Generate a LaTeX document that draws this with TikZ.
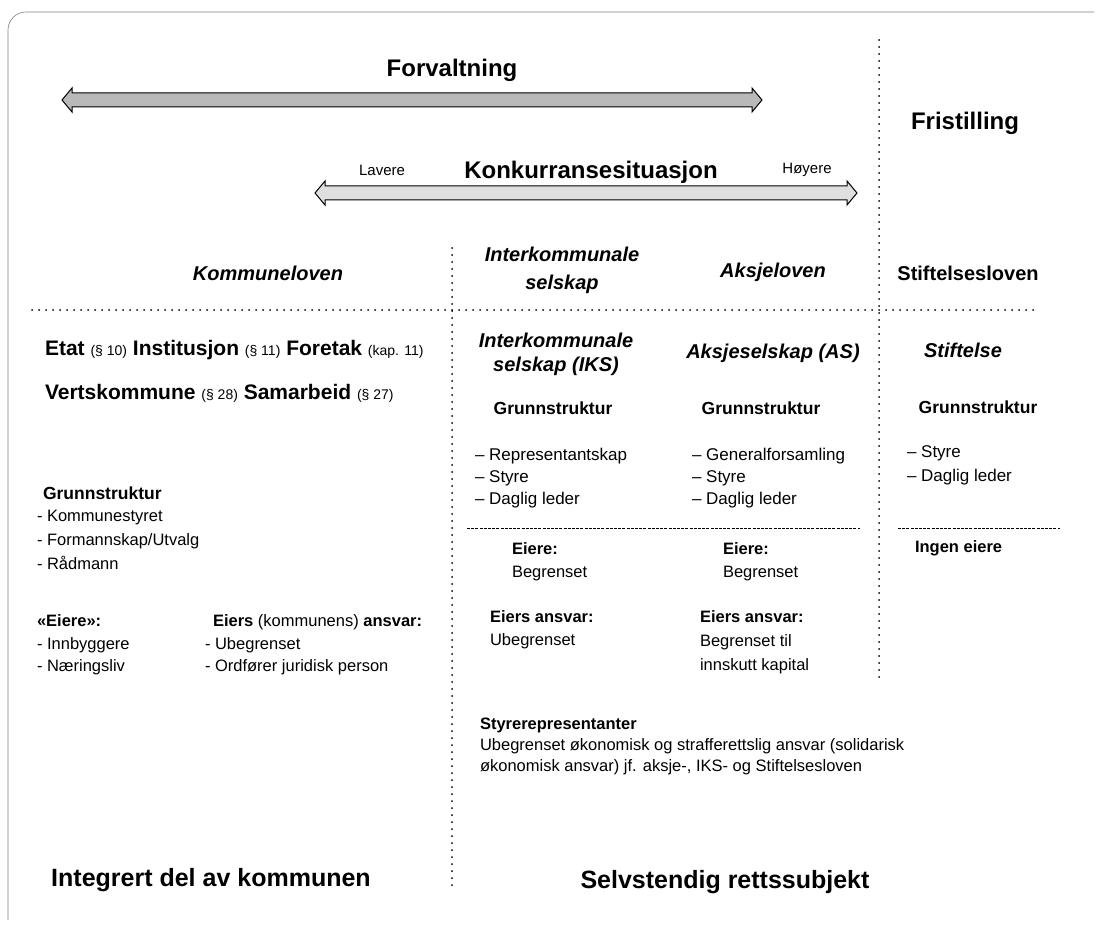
\documentclass[tikz,border=0pt]{standalone}
\usepackage{fontspec}
\setmainfont{Liberation Sans}
\newcommand\parenfont{\fontsize{14}{16}\selectfont\mdseries}
\begin{document}
\begin{tikzpicture}[x=1pt,y=-1pt, inner sep=0pt, outer sep=0pt,
  big/.style={font=\fontsize{24}{28}\selectfont\bfseries},
  hdr/.style={font=\fontsize{20}{24}\selectfont\bfseries\itshape, align=center},
  law/.style={font=\fontsize{20}{24}\selectfont\bfseries},
  sub/.style={font=\fontsize{17.5}{22}\selectfont\bfseries},
  small/.style={font=\fontsize{15}{18}\selectfont},
  lst/.style={font=\fontsize{16.5}{22.5}\selectfont, align=left, anchor=north west},
  dotline/.style={line width=2pt, dash pattern=on 0pt off 7pt, line cap=round},
  dashline/.style={line width=0.9pt, dash pattern=on 3pt off 1.2pt},
  frame/.style={draw=gray, line width=0.6pt},
  arrowdark/.style={draw=black, line width=1pt, fill=gray!55},
  arrowlight/.style={draw=black, line width=1pt, fill=gray!25},
]
\useasboundingbox (0,0) rectangle (1097,925);
% frame
\draw[frame, rounded corners=18pt] (8,920) -- (8,12) -- (1094,12);
% arrows
\draw[arrowdark] (62,100) -- (72,88) -- (72,93) -- (752,93) -- (752,88) -- (762,100)
  -- (752,112) -- (752,107) -- (72,107) -- (72,112) -- cycle;
\draw[arrowlight] (315,193) -- (325,181) -- (325,186) -- (847,186) -- (847,181) -- (857,193)
  -- (847,205) -- (847,200) -- (325,200) -- (325,205) -- cycle;
% separators
\draw[dotline] (879,40) -- (879,680);
\draw[dotline] (452,248) -- (452,892);
\draw[dotline] (32,310) -- (1035,310);
\draw[dashline] (467,528) -- (860,528);
\draw[dashline] (898,528) -- (1060,528);
% top
\node[big] (forv) at (452,70) {Forvaltning};
\node[big] (frist) at (965,123) {Fristilling};
\node[small] (lav) at (382,170) {Lavere};
\node[big] (konk) at (591,172) {Konkurransesituasjon};
\node[small] (hoy) at (807,170) {Høyere};
% headers
\node[hdr] (kl) at (268,273) {Kommuneloven};
\node[hdr, font=\fontsize{20}{28}\selectfont\bfseries\itshape] (iksl) at (562,270) {Interkommunale\\selskap};
\node[hdr] (asl) at (773,272) {Aksjeloven};
\node[law] (stl) at (968,273) {Stiftelsesloven};
% row 2
\node[anchor=west, font=\fontsize{21}{24}\selectfont\bfseries] (etat) at (45,350)
  {Etat {\parenfont(§ 10)} Institusjon {\parenfont(§ 11)} Foretak {\parenfont(kap. 11)}};
\node[anchor=west, font=\fontsize{21}{24}\selectfont\bfseries] (verts) at (45,393)
  {Vertskommune {\parenfont(§ 28)} Samarbeid {\parenfont(§ 27)}};
\node[hdr] (iks) at (556,354) {Interkommunale\\selskap (IKS)};
\node[hdr] (as) at (773,353) {Aksjeselskap (AS)};
\node[hdr] (stif) at (963,350) {Stiftelse};
% grunnstruktur
\node[sub] (g1) at (553,408) {Grunnstruktur};
\node[sub] (g2) at (761,408) {Grunnstruktur};
\node[sub] (g3) at (978,407) {Grunnstruktur};
\node[sub, anchor=west] (g0) at (43,493) {Grunnstruktur};
% lists
\node[lst, font=\fontsize{17}{22}\selectfont] (l1) at (475,448) {-- Representantskap\\-- Styre\\-- Daglig leder};
\node[lst, font=\fontsize{17}{22}\selectfont] (l2) at (692,448) {-- Generalforsamling\\-- Styre\\-- Daglig leder};
\node[lst, font=\fontsize{17}{24}\selectfont] (l3) at (907,446) {-- Styre\\-- Daglig leder};
\node[lst, font=\fontsize{16.5}{24}\selectfont] (l0) at (37,510) {- Kommunestyret\\- Formannskap/Utvalg\\- Rådmann};
% eiere
\node[lst] (e1) at (512,543) {\textbf{Eiere:}\\Begrenset};
\node[lst] (e2) at (723,543) {\textbf{Eiere:}\\Begrenset};
\node[lst] (e3) at (915,541) {\textbf{Ingen eiere}};
\node[lst] (a1) at (490,611) {\textbf{Eiers ansvar:}\\Ubegrenset};
\node[lst, font=\fontsize{16.5}{24}\selectfont] (a2) at (700,611) {\textbf{Eiers ansvar:}\\Begrenset til\\innskutt kapital};
\node[lst] (le) at (37,615) {\textbf{«Eiere»:}\\- Innbyggere\\- Næringsliv};
\node[lst] (la) at (205,615) {\hspace*{8pt}\textbf{Eiers} (kommunens) \textbf{ansvar:}\\- Ubegrenset\\- Ordfører juridisk person};
% bottom
\node[lst, font=\fontsize{16.5}{21}\selectfont] (sty) at (480,718) {\textbf{Styrerepresentanter}\\Ubegrenset økonomisk og strafferettslig ansvar (solidarisk\\økonomisk ansvar) jf. aksje-, IKS- og Stiftelsesloven};
\node[font=\fontsize{25}{30}\selectfont\bfseries] (selv) at (725,882) {Selvstendig rettssubjekt};
\node[font=\fontsize{25}{30}\selectfont\bfseries] (integ) at (211,880) {Integrert del av kommunen};
\end{tikzpicture}
\end{document}
